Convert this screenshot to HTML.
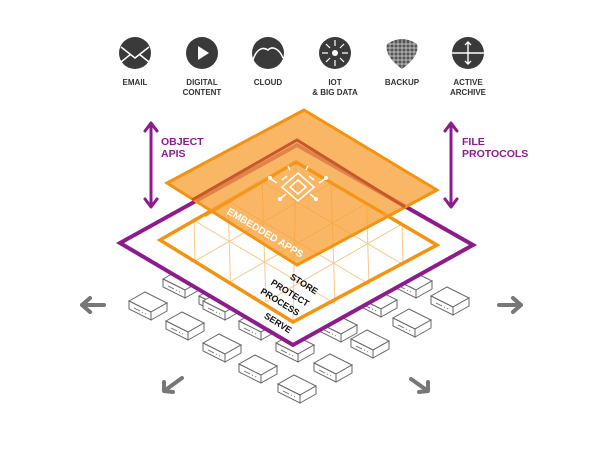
<!DOCTYPE html>
<html><head><meta charset="utf-8"><style>
html,body{margin:0;padding:0;background:#fff;}
svg{display:block;}
.lbl{font-family:"Liberation Sans",sans-serif;font-weight:bold;font-size:8px;fill:#333;text-anchor:middle;}
.pl{font-family:"Liberation Sans",sans-serif;font-weight:bold;font-size:10.5px;fill:#8e1b8e;}
.bl{font-family:"Liberation Sans",sans-serif;font-weight:bold;font-size:9px;fill:#111;}
</style></head><body>
<svg width="600" height="450" viewBox="0 0 600 450" xmlns="http://www.w3.org/2000/svg">
<defs>
<g id="srv">
<path d="M-19,-4 L-3,-13 L19,-2 L3,7 Z" fill="#fff" stroke="#666" stroke-width="1"/>
<path d="M-19,-4 L-19,4 L3,15 L3,7 Z" fill="#fff" stroke="#666" stroke-width="1"/>
<path d="M3,15 L19,6 L19,-2 L3,7 Z" fill="#fff" stroke="#666" stroke-width="1"/>
<path d="M-14,3 L-8,6 M-6,7 L-5,7.5 M-3,8.5 L-2,9" stroke="#666" stroke-width="0.8"/>
</g>
</defs>

<g fill="#3a3a3a">
<circle cx="135" cy="53" r="16"/>
<circle cx="202" cy="53" r="16"/>
<circle cx="268" cy="53" r="16"/>
<circle cx="335" cy="53" r="16"/>
<circle cx="468" cy="53" r="16"/>
</g>
<path d="M121,47 L135,58 L149,47 M121,62 L131,54 M149,62 L139,54" stroke="#fff" stroke-width="1.5" fill="none"/>
<path d="M198,46 L209,53 L198,60 Z" fill="#fff"/>
<path d="M253,60 C256,50 262,46 268,50 C273,45 280,50 283,58" stroke="#fff" stroke-width="1.5" fill="none"/>
<circle cx="335" cy="53" r="3" fill="#fff"/>
<g stroke="#fff" stroke-width="1.2">
<path d="M335,40 L335,46 M335,60 L335,66 M322,53 L328,53 M342,53 L348,53 M326,44 L330,48 M344,44 L340,48 M326,62 L330,58 M344,62 L340,58"/>
</g>
<path d="M387,44 Q402,34 417,44 Q420,56 402,69 Q384,56 387,44 Z" fill="#555"/>
<g stroke="#fff" stroke-width="0.7" opacity="0.8">
<path d="M386,44 H418 M386,48 H418 M386,52 H418 M386,56 H418 M386,60 H418 M386,64 H418 M390,38 V66 M394,38 V66 M398,38 V68 M402,38 V70 M406,38 V68 M410,38 V66 M414,38 V66"/>
</g>
<path d="M452,53 H484 M468,42 V64 M465,45 L468,42 L471,45 M465,61 L468,64 L471,61" stroke="#fff" stroke-width="1.4" fill="none"/>

<text class="lbl" x="135" y="85">EMAIL</text>
<text class="lbl" x="202" y="85">DIGITAL</text>
<text class="lbl" x="202" y="95">CONTENT</text>
<text class="lbl" x="268" y="85">CLOUD</text>
<text class="lbl" x="335" y="85">IOT</text>
<text class="lbl" x="335" y="95">&amp; BIG DATA</text>
<text class="lbl" x="402" y="85">BACKUP</text>
<text class="lbl" x="468" y="85">ACTIVE</text>
<text class="lbl" x="468" y="95">ARCHIVE</text>

<use href="#srv" x="182" y="283"/>
<use href="#srv" x="218" y="300"/>
<use href="#srv" x="413" y="283"/>
<use href="#srv" x="378" y="302"/>
<use href="#srv" x="148" y="305"/>
<use href="#srv" x="222" y="305"/>
<use href="#srv" x="185" y="325"/>
<use href="#srv" x="258" y="325"/>
<use href="#srv" x="222" y="347"/>
<use href="#srv" x="295" y="347"/>
<use href="#srv" x="258" y="368"/>
<use href="#srv" x="297" y="388"/>
<use href="#srv" x="333" y="367"/>
<use href="#srv" x="370" y="343"/>
<use href="#srv" x="338" y="327"/>
<use href="#srv" x="412" y="322"/>
<use href="#srv" x="450" y="300"/>

<g stroke="#777" stroke-width="4" fill="none" stroke-linecap="round" stroke-linejoin="round">
<path d="M104,305 H82 M90,298 L82,305 L90,312"/>
<path d="M499,305 H521 M513,298 L521,305 L513,312"/>
<path d="M182,378 L164,391 M164,382 L164,391 L173,392"/>
<path d="M411,379 L428,391 M428,382 L428,391 L419,392"/>
</g>

<path d="M120,243 L297,145 L473,245 L293,345 Z" fill="#fff" stroke="#8e1b8e" stroke-width="4" stroke-linejoin="miter"/>

<g stroke="#f9c788" stroke-width="1" fill="none">
<path d="M262,181.5 L403,264.5 M228,201 L369,284 M194,220.5 L335,303.5"/>
<path d="M331,183 L195,261 M366.5,203.5 L230.5,281.5 M402,224 L266,302"/>
<path d="M296,162 L293,322 M262,181.5 L266,302 M228,201 L230.5,281.5 M194,220.5 L195,261 M331,183 L335,303.5 M366.5,203.5 L369,284 M402,224 L403,264.5"/>
</g>
<path d="M296,162 L437,245 L293,322 L160,240 Z" fill="none" stroke="#f5920f" stroke-width="3.5" stroke-linejoin="miter"/>

<path d="M304,110 L437,190 L297,265 L167,183 Z" fill="#f7a23a" fill-opacity="0.78" stroke="#f5920f" stroke-width="3" stroke-linejoin="miter"/>
<path d="M192,200 L297,140 L405,207" fill="none" stroke="#c9572a" stroke-width="3"/>
<path d="M205,216 L296,162 L383,213" fill="none" stroke="#f5920f" stroke-width="2.5" opacity="0.8"/>
<g stroke="#fff" stroke-width="1.5" fill="none">
<path d="M298,173 L314,187 L298,201 L282,187 Z"/>
<path d="M298,180 L306,187 L298,194 L290,187 Z"/>
<path d="M282,180 L287,176 M277,183 L271,179 M314,180 L309,176 M319,183 L325,179 M286,194 L281,198 M310,194 L315,198 M290,170 L288,166 M306,170 L308,166"/>
</g>
<g fill="#fff"><circle cx="270" cy="178" r="2"/><circle cx="326" cy="178" r="2"/><circle cx="280" cy="199" r="2"/><circle cx="316" cy="199" r="2"/></g>
<text x="265" y="236" transform="rotate(31 265 233)" text-anchor="middle" style="font-family:'Liberation Sans',sans-serif;font-weight:bold;font-size:10px;fill:#fff;">EMBEDDED APPS</text>

<text class="bl" x="304" y="287" text-anchor="middle" transform="rotate(32 304 284)">STORE</text>
<text class="bl" x="290" y="296" text-anchor="middle" transform="rotate(32 290 293)">PROTECT</text>
<text class="bl" x="280" y="305" text-anchor="middle" transform="rotate(32 280 302)">PROCESS</text>
<text class="bl" x="278" y="326" text-anchor="middle" transform="rotate(32 278 323)">SERVE</text>

<g stroke="#8e1b8e" stroke-width="3" fill="none" stroke-linecap="round" stroke-linejoin="round">
<path d="M151,125 V205 M145,131 L151,123 L157,131 M145,199 L151,207 L157,199"/>
<path d="M451,125 V205 M445,131 L451,123 L457,131 M445,199 L451,207 L457,199"/>
</g>
<text class="pl" x="161" y="145">OBJECT</text>
<text class="pl" x="161" y="157">APIS</text>
<text class="pl" x="462" y="145">FILE</text>
<text class="pl" x="462" y="157">PROTOCOLS</text>
</svg>
</body></html>
